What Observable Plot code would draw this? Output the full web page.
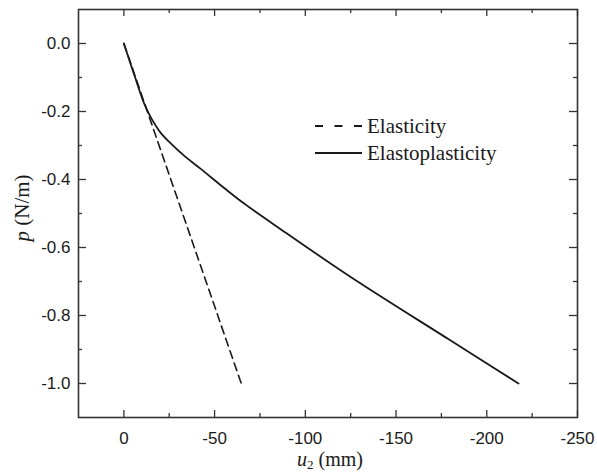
<!DOCTYPE html>
<html>
<head>
<meta charset="utf-8">
<script src="https://cdn.jsdelivr.net/npm/d3@7"></script>
<script src="https://cdn.jsdelivr.net/npm/@observablehq/plot@0.6"></script>
<style>
  html, body { margin: 0; padding: 0; background: #fff; }
  #chart svg { display: block; }
</style>
</head>
<body>
<div id="chart"></div>
<script>
// Data
const elasticU = [0, -64.7];
const elasticP = [0, -1.0];
const plasticU = [0, -6.4, -11.0, -14.7, -20.2, -25.7, -33.0, -42.2, -56.0, -66.1, -87.2, -124.8, -179.9, -217.5];
const plasticP = [0, -0.103, -0.174, -0.216, -0.262, -0.293, -0.329, -0.368, -0.428, -0.470, -0.549, -0.686, -0.873, -1.0];

const xMajor = [0, -50, -100, -150, -200, -250];
const xMinor = [-25, -75, -125, -175, -225];
const yMajor = [0.0, -0.2, -0.4, -0.6, -0.8, -1.0];
const yMinor = [-0.1, -0.3, -0.5, -0.7, -0.9];

const seriesNames = ["Elasticity", "Elastoplasticity"];

const elastic = elasticU.map((u, i) => ({u, p: elasticP[i]}));
const plastic = plasticU.map((u, i) => ({u, p: plasticP[i]}));

const W = 597, H = 472;
const mL = 78, mR = 20, mT = 9, mB = 55;
const pw = W - mL - mR, ph = H - mT - mB;
const ink = "#1a1a1a";

const chart = Plot.plot({
  width: W, height: H,
  marginLeft: mL, marginRight: mR, marginTop: mT, marginBottom: mB,
  style: {fontFamily: "'Liberation Sans', Arial, sans-serif", fontSize: "17px", color: ink, background: "#fff"},
  x: {domain: [25, -250]},
  y: {domain: [-1.1, 0.1]},
  marks: [
    Plot.line(elastic, {x: "u", y: "p", stroke: ink, strokeWidth: 1.6, strokeDasharray: "8,5"}),
    Plot.line(plastic, {x: "u", y: "p", stroke: ink, strokeWidth: 1.8, curve: "catmull-rom"}),
    // inward ticks, all four sides
    Plot.tickX(xMajor, {x: d => d, stroke: "#333", strokeWidth: 1.3, insetTop: ph - 7}),
    Plot.tickX(xMajor, {x: d => d, stroke: "#333", strokeWidth: 1.3, insetBottom: ph - 7}),
    Plot.tickX(xMinor, {x: d => d, stroke: "#333", strokeWidth: 1.3, insetTop: ph - 4}),
    Plot.tickX(xMinor, {x: d => d, stroke: "#333", strokeWidth: 1.3, insetBottom: ph - 4}),
    Plot.tickY(yMajor, {y: d => d, stroke: "#333", strokeWidth: 1.3, insetRight: pw - 8}),
    Plot.tickY(yMajor, {y: d => d, stroke: "#333", strokeWidth: 1.3, insetLeft: pw - 8}),
    Plot.tickY(yMinor, {y: d => d, stroke: "#333", strokeWidth: 1.3, insetRight: pw - 4}),
    Plot.tickY(yMinor, {y: d => d, stroke: "#333", strokeWidth: 1.3, insetLeft: pw - 4}),
    Plot.axisX({ticks: xMajor, tickSize: 0, tickPadding: 14, tickFormat: d => String(d), label: null, fontSize: 17, fill: ink}),
    Plot.axisY({ticks: yMajor, tickSize: 0, tickPadding: 8, tickFormat: d => d.toFixed(1), label: null, fontSize: 17, fill: ink}),
    Plot.frame({stroke: "#333", strokeWidth: 1.6})
  ]
});

document.getElementById("chart").appendChild(chart);

// Axis titles and legend (serif, with italic symbols and subscript)
const svg = d3.select(chart);
const serif = "'Liberation Serif', 'Times New Roman', serif";

const xl = svg.append("text")
  .attr("x", 330).attr("y", 466)
  .attr("text-anchor", "middle")
  .attr("font-family", serif).attr("font-size", 20).attr("fill", ink);
xl.append("tspan").attr("font-style", "italic").text("u");
xl.append("tspan").attr("font-size", 13).attr("dy", 3).text("2");
xl.append("tspan").attr("dy", -3).text(" (mm)");

const yl = svg.append("text")
  .attr("transform", "translate(29,208) rotate(-90)")
  .attr("text-anchor", "middle")
  .attr("font-family", serif).attr("font-size", 21).attr("fill", ink);
yl.append("tspan").attr("font-style", "italic").text("p");
yl.append("tspan").text(" (N/m)");

const leg = svg.append("g");
const legY = [126, 153];
const legDash = ["8,11.5", null];
seriesNames.forEach((name, i) => {
  leg.append("line")
    .attr("x1", 315).attr("x2", 362)
    .attr("y1", legY[i]).attr("y2", legY[i])
    .attr("stroke", ink).attr("stroke-width", 1.8)
    .attr("stroke-dasharray", legDash[i]);
  leg.append("text")
    .attr("x", 367).attr("y", legY[i] + 7)
    .attr("text-anchor", "start")
    .attr("font-family", serif).attr("font-size", 21).attr("fill", ink)
    .text(name);
});
</script>
</body>
</html>
